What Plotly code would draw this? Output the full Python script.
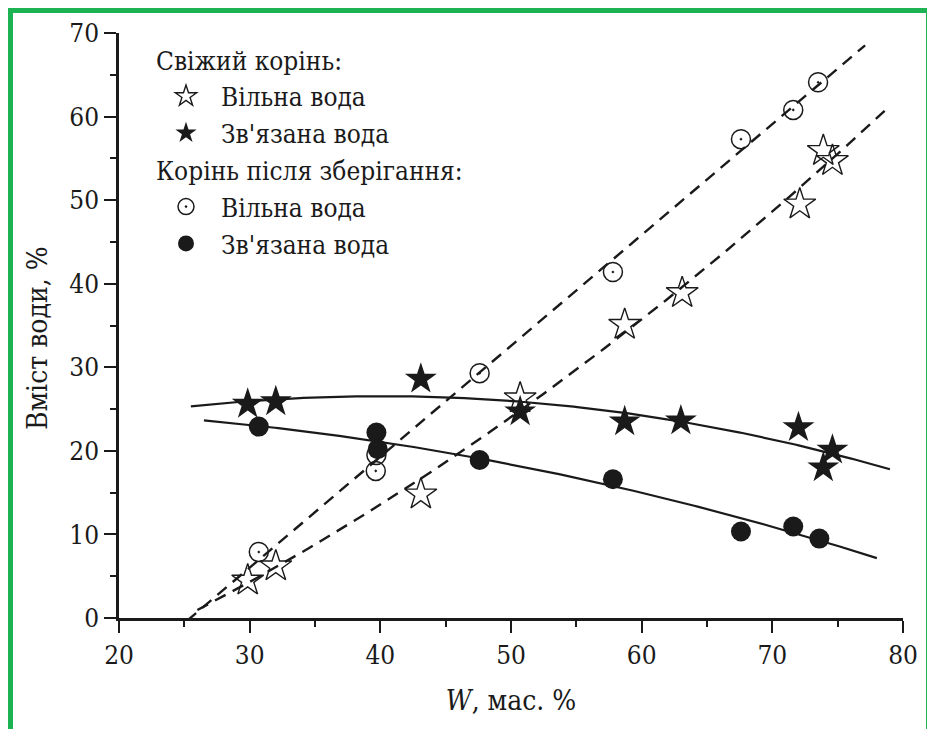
import numpy as np
import plotly.graph_objects as go

# ---- data ----
fresh_free_x = [29.85, 32.0, 43.1, 50.7, 58.7, 63.1, 72.1, 73.9, 74.6]
fresh_free_y = [4.5, 6.2, 14.8, 26.3, 35.1, 38.9, 49.5, 55.9, 54.7]

fresh_bound_x = [29.85, 32.0, 43.1, 50.7, 58.7, 63.0, 72.0, 74.6, 73.9]
fresh_bound_y = [25.6, 25.9, 28.6, 24.7, 23.5, 23.6, 22.8, 20.1, 18.0]

stored_free_x = [30.7, 39.7, 39.65, 47.6, 57.8, 67.6, 71.6, 73.5]
stored_free_y = [7.9, 19.5, 17.6, 29.3, 41.4, 57.3, 60.8, 64.1]

stored_bound_x = [30.7, 39.7, 39.8, 47.6, 57.8, 67.6, 71.6, 73.6]
stored_bound_y = [22.9, 22.2, 20.2, 18.9, 16.6, 10.35, 10.95, 9.5]

# x-ranges over which the fitted trend lines are drawn
fit_range_fresh_free = [26.0, 79.0]
fit_range_stored_free = [25.2, 77.1]
fit_range_fresh_bound = [25.5, 79.0]
fit_range_stored_bound = [26.5, 78.0]

x_ticks = [20, 30, 40, 50, 60, 70, 80]
y_ticks = [0, 10, 20, 30, 40, 50, 60, 70]

FONT = "DejaVu Serif Condensed, DejaVu Serif"
BLACK = "#1a1a1a"

W, H = 927, 721
ML, MR, MT, MB = 111, 32, 25, 111
PW, PH = W - ML - MR, H - MT - MB


def px_to_paper_x(fx):
    return (fx - ML) / PW


def px_to_paper_y(fy):
    return (H - MB - fy) / PH


def fit_line(xs, ys, deg, rng):
    c = np.polyfit(xs, ys, deg)
    xx = np.linspace(rng[0], rng[1], 200)
    return xx, np.polyval(c, xx)


def font(size):
    return dict(family=FONT, size=size, color=BLACK)


fig = go.Figure()

for xs, ys, deg, rng, dash in [
    (fresh_free_x, fresh_free_y, 2, fit_range_fresh_free, "12px,8px"),
    (stored_free_x, stored_free_y, 1, fit_range_stored_free, "12px,8px"),
    (fresh_bound_x, fresh_bound_y, 2, fit_range_fresh_bound, "solid"),
    (stored_bound_x, stored_bound_y, 2, fit_range_stored_bound, "solid"),
]:
    xx, yy = fit_line(xs, ys, deg, rng)
    fig.add_trace(go.Scatter(
        x=xx, y=yy, mode="lines", showlegend=False, hoverinfo="skip",
        line=dict(color=BLACK, width=2.4 if dash != "solid" else 2.2, dash=dash),
    ))

fig.add_trace(go.Scatter(
    x=fresh_free_x, y=fresh_free_y, mode="markers", name="Вільна вода",
    legendgroup="fresh", legendgrouptitle_text="Свіжий корінь:",
    marker=dict(symbol="star-open", size=24, color=BLACK, line=dict(width=1.4, color=BLACK)),
))
fig.add_trace(go.Scatter(
    x=fresh_bound_x, y=fresh_bound_y, mode="markers", name="Зв'язана вода",
    legendgroup="fresh",
    marker=dict(symbol="star", size=24, color=BLACK, line=dict(width=0)),
))
fig.add_trace(go.Scatter(
    x=stored_free_x, y=stored_free_y, mode="markers", name="Вільна вода",
    legendgroup="stored", legendgrouptitle_text="Корінь після зберігання:",
    marker=dict(symbol="circle-open-dot", size=19, color=BLACK, line=dict(width=1.5, color=BLACK)),
))
fig.add_trace(go.Scatter(
    x=stored_bound_x, y=stored_bound_y, mode="markers", name="Зв'язана вода",
    legendgroup="stored",
    marker=dict(symbol="circle", size=20, color=BLACK, line=dict(width=0)),
))

axis_common = dict(
    showline=True, linecolor=BLACK, linewidth=2.5,
    ticks="outside", ticklen=12, tickwidth=2, tickcolor=BLACK,
    showgrid=False, zeroline=False, mirror=False,
    tickfont=font(26),
    minor=dict(ticks="outside", ticklen=6, tickwidth=2, tickcolor=BLACK, dtick=5),
)

fig.update_xaxes(
    range=[20, 80], tickvals=x_ticks, ticktext=[str(v) for v in x_ticks],
    title=dict(text="<i>W</i>, мас. %", font=font(28), standoff=22),
    **axis_common,
)
fig.update_yaxes(
    range=[0, 70], tickvals=y_ticks, ticktext=[str(v) for v in y_ticks],
    **axis_common,
)

fig.update_layout(
    width=W, height=H,
    margin=dict(l=ML, r=MR, t=MT, b=MB, autoexpand=False),
    paper_bgcolor="white", plot_bgcolor="white",
    font=font(26),
    legend=dict(
        x=px_to_paper_x(143), y=px_to_paper_y(28), xanchor="left", yanchor="top",
        bgcolor="rgba(0,0,0,0)", borderwidth=0,
        traceorder="grouped", tracegroupgap=0,
        font=font(26),
        grouptitlefont=font(26),
        itemwidth=60,
    ),
    annotations=[
        dict(text="Вміст води, %", textangle=-90, showarrow=False,
             xref="paper", yref="paper",
             x=px_to_paper_x(30), y=px_to_paper_y(330),
             xanchor="center", yanchor="middle", font=font(28)),
    ],
    shapes=[
        dict(type="rect", xref="paper", yref="paper",
             x0=px_to_paper_x(2.5), x1=px_to_paper_x(920.5),
             y0=px_to_paper_y(760), y1=px_to_paper_y(2.5),
             line=dict(color="#1db354", width=5), fillcolor="rgba(0,0,0,0)", layer="below"),
        dict(type="line", xref="paper", yref="paper",
             x0=px_to_paper_x(925), x1=px_to_paper_x(925),
             y0=px_to_paper_y(760), y1=px_to_paper_y(6),
             line=dict(color="#b5b5b5", width=4), layer="below"),
    ],
)

fig.write_html("out.html")
